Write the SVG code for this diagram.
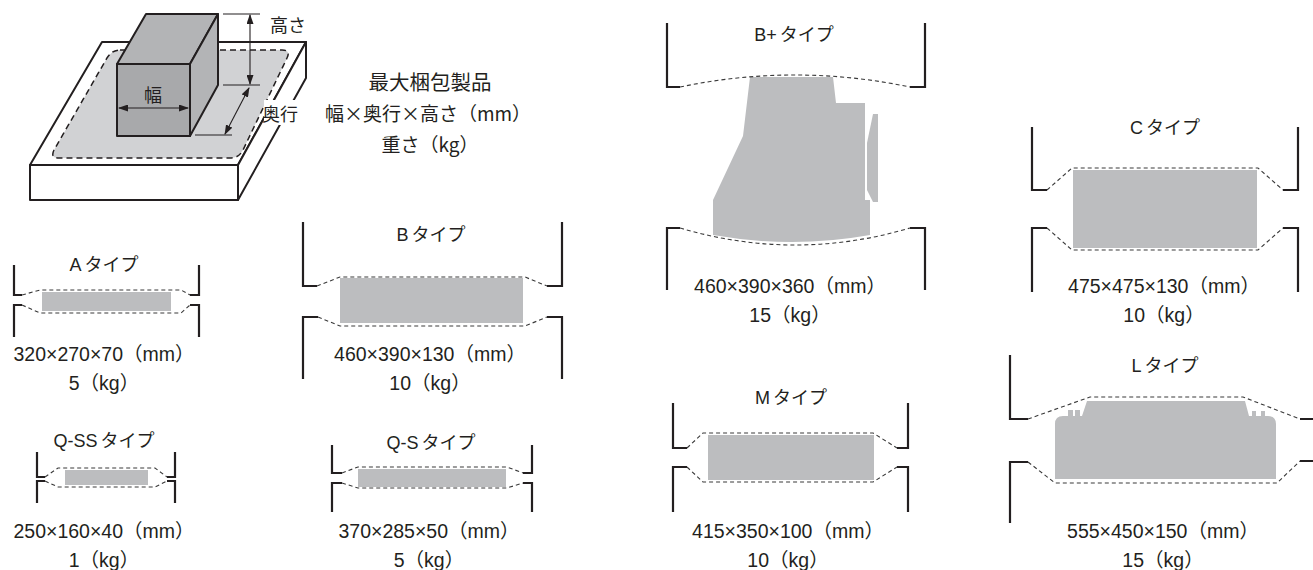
<svg xmlns="http://www.w3.org/2000/svg" width="1313" height="570" viewBox="0 0 1313 570">
<style>
.br{fill:none;stroke:#231f20;stroke-width:2.2;stroke-linejoin:miter}
.dash{fill:none;stroke:#3a3a3a;stroke-width:1.1;stroke-dasharray:4 3}
.prod{fill:#bcbdbf}
.ol{stroke:#231f20;stroke-width:2;stroke-linejoin:round}
.thin{fill:none;stroke:#231f20;stroke-width:1.1}
.t{font-family:"Liberation Sans","Noto Sans CJK JP",sans-serif;fill:#231f20;text-anchor:middle}
.ti{font-size:18px}
.lb{font-size:19.5px}
.jp{font-family:"Noto Sans CJK JP",sans-serif;fill:#231f20;font-size:18px}
.lg{font-family:"Noto Sans CJK JP",sans-serif;fill:#231f20;font-size:19px;text-anchor:middle}
</style>
<defs>
<marker id="ah" markerUnits="userSpaceOnUse" markerWidth="10" markerHeight="7" refX="9" refY="3.5" orient="auto-start-reverse">
<path d="M0,0 L10,3.5 L0,7 z" fill="#231f20"/>
</marker>
</defs>

<g id="illustration">
<polygon class="ol" fill="#fff" points="102,42 306,42 238,165 30,165"/>
<rect class="ol" fill="#fff" x="30" y="165" width="208" height="35"/>
<polygon class="ol" fill="#fff" points="238,165 306,42 306,78 238,200"/>
<path d="M120,50 H282 Q291,50 287,58 L243,150 Q239,158 230,158 H59 Q50,158 54,150 L107,58 Q112,50 120,50 Z" fill="#d1d2d4" stroke="#231f20" stroke-width="1.5" stroke-dasharray="6 4"/>
<polygon class="ol" fill="#b3b4b6" points="117,64 146,14 218,14 190,64"/>
<polygon class="ol" fill="#b3b4b6" points="190,64 218,14 218,85 190,136"/>
<rect class="ol" fill="#a8a9ab" x="117" y="64" width="73" height="72"/>
<rect x="264" y="100" width="40" height="25" fill="#fff"/>
<text class="jp" x="153" y="102" text-anchor="middle">幅</text>
<text class="jp" x="270" y="32">高さ</text>
<text class="jp" x="262" y="121">奥行</text>
</g>

<g id="dimensions">
<line class="thin" x1="223" y1="14" x2="260" y2="14"/>
<line class="thin" x1="223" y1="85" x2="260" y2="85"/>
<line class="thin" x1="195" y1="135" x2="232" y2="135"/>
<line class="thin" x1="250" y1="15" x2="250" y2="84" marker-start="url(#ah)" marker-end="url(#ah)"/>
<line class="thin" x1="249" y1="88" x2="225" y2="134" marker-start="url(#ah)" marker-end="url(#ah)"/>
<line class="thin" x1="119" y1="108" x2="188" y2="108" marker-start="url(#ah)" marker-end="url(#ah)"/>
</g>

<g id="legend">
<text class="lg" x="430" y="90" style="font-size:20.5px">最大梱包製品</text>
<text class="lg" x="428" y="121">幅×奥行×高さ（mm）</text>
<text class="lg" x="430" y="152">重さ（kg）</text>
</g>

<g id="type-a">
<path class="br" d="M14,265 V295 H22 M199,265 V295 H190 M14,337 V305 H22 M199,337 V305 H190"/>
<path class="dash" d="M22,295 L40,290 H181 L190,295 M22,305 L40,313 H181 L190,305"/>
<rect class="prod" x="42" y="292" width="129" height="19"/>
<text class="t ti" x="104" y="271">A<tspan dx="3">タイプ</tspan></text>
<text class="t lb" x="104" y="361">320×270×70（mm）</text>
<text class="t lb" x="104" y="390">5（kg）</text>
</g>

<g id="type-qss">
<path class="br" d="M37,452 V477 H45 M37,503 V481 H45 M175,452 V477 H167 M175,503 V481 H167"/>
<path class="dash" d="M45,477 L58,468 H155 L167,477 M45,481 L58,487 H155 L167,481"/>
<rect class="prod" x="65" y="470" width="83" height="15"/>
<text class="t ti" x="104" y="447">Q-SS<tspan dx="3">タイプ</tspan></text>
<text class="t lb" x="104" y="538">250×160×40（mm）</text>
<text class="t lb" x="104" y="567">1（kg）</text>
</g>

<g id="type-b">
<path class="br" d="M303,222 V286 H317 M562,222 V286 H547 M303,379 V317 H318 M562,379 V317 H547"/>
<path class="dash" d="M317,286 L340,277 H525 L547,286 M318,317 L340,326 H525 L547,317"/>
<rect class="prod" x="340" y="278" width="183" height="45"/>
<text class="t ti" x="431" y="241">B<tspan dx="3">タイプ</tspan></text>
<text class="t lb" x="430" y="361">460×390×130（mm）</text>
<text class="t lb" x="430" y="390">10（kg）</text>
</g>

<g id="type-qs">
<path class="br" d="M332,445 V473 H342 M532,445 V473 H523 M332,512 V483 H342 M532,512 V483 H523"/>
<path class="dash" d="M342,473 L358,467 H507 L523,473 M342,483 L358,488 H507 L523,483"/>
<rect class="prod" x="358" y="469" width="148" height="18"/>
<text class="t ti" x="431" y="449">Q-S<tspan dx="3">タイプ</tspan></text>
<text class="t lb" x="429" y="538">370×285×50（mm）</text>
<text class="t lb" x="429" y="567">5（kg）</text>
</g>

<g id="type-bplus">
<path class="br" d="M667,23 V87 H680 M925,23 V87 H910 M667,290 V228 H680 M925,290 V228 H910"/>
<path class="prod" d="M750,77 H833 L836,103 H865 V200 H870 V235 Q792,249 713,235 V200 L743,136 Z"/>
<path class="prod" d="M873,114 H878 V202 H873 L867,190 V143 Z"/>
<path class="dash" d="M680,87 Q795,63 910,87 M680,228 Q795,262 910,228"/>
<text class="t ti" x="794" y="41">B+<tspan dx="3">タイプ</tspan></text>
<text class="t lb" x="790" y="293">460×390×360（mm）</text>
<text class="t lb" x="790" y="322">15（kg）</text>
</g>

<g id="type-m">
<path class="br" d="M673,403 V448 H687 M908,403 V448 H897 M673,512 V467 H687 M908,512 V467 H897"/>
<path class="dash" d="M687,448 L703,433 H873 L897,448 M687,467 L703,482 H873 L897,467"/>
<rect class="prod" x="708" y="435" width="166" height="45"/>
<text class="t ti" x="791" y="404">M<tspan dx="3">タイプ</tspan></text>
<text class="t lb" x="788" y="538">415×350×100（mm）</text>
<text class="t lb" x="788" y="567">10（kg）</text>
</g>

<g id="type-c">
<path class="br" d="M1032,127 V190 H1047 M1298,127 V190 H1283 M1032,292 V228 H1047 M1298,292 V228 H1283"/>
<path class="dash" d="M1047,190 L1072,168 H1258 L1283,190 M1047,228 L1072,250 H1258 L1283,228"/>
<rect class="prod" x="1073" y="170" width="184" height="78"/>
<text class="t ti" x="1165" y="134">C<tspan dx="3">タイプ</tspan></text>
<text class="t lb" x="1164" y="293">475×475×130（mm）</text>
<text class="t lb" x="1164" y="322">10（kg）</text>
</g>

<g id="type-l">
<path class="br" d="M1010,355 V419 H1028 M1010,523 V462 H1028 M1316,355 V419 H1300 M1316,523 V461 H1300"/>
<path class="prod" d="M1055,424 Q1055,416 1063,416 H1068 V410 H1073 V416 H1075 V410 H1080 V416 H1082 L1087,401 H1245 L1249,416 H1252 V411 H1256 V416 H1261 V411 H1265 V416 H1268 Q1276,416 1276,424 V479 H1055 Z"/>
<path class="dash" d="M1028,419 L1090,397 H1243 L1300,419 M1028,462 L1055,483 H1277 L1300,461"/>
<text class="t ti" x="1165" y="372">L<tspan dx="3">タイプ</tspan></text>
<text class="t lb" x="1163" y="538">555×450×150（mm）</text>
<text class="t lb" x="1163" y="567">15（kg）</text>
</g>
</svg>
